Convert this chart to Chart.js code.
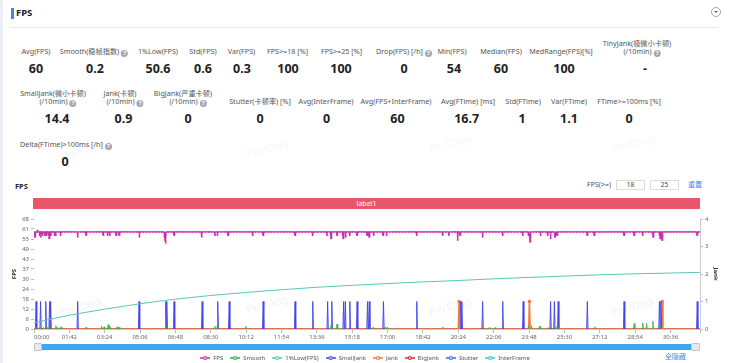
<!DOCTYPE html>
<html><head><meta charset="utf-8">
<script src="https://cdn.jsdelivr.net/npm/chart.js@4.4.1/dist/chart.umd.min.js"></script>
<style>
html,body{margin:0;padding:0;}
body{width:730px;height:363px;overflow:hidden;position:relative;background:#fff;font-family:"Noto Sans","Noto Sans CJK SC",sans-serif;color:#333;}
.abs{position:absolute;}
.lbl{position:absolute;font-size:7.2px;color:#555;text-align:center;white-space:nowrap;line-height:8.4px;transform:translateX(-50%);}
.lbl .l2{padding-left:10px;}
.val{position:absolute;font-size:12.5px;font-weight:bold;color:#222;white-space:nowrap;transform:translate(-50%,-50%);line-height:14px;}
.q{display:inline-block;width:7px;height:7px;border-radius:50%;background:#a3a9b3;color:#fff;font-size:6px;line-height:7px;text-align:center;font-weight:bold;margin-left:2px;vertical-align:-1px;}
.wm{position:absolute;font-size:11px;color:rgba(0,0,0,0.06);transform:translate(-50%,-50%) rotate(-15deg);white-space:nowrap;}
#chartWrap{position:absolute;left:0;top:212px;width:730px;height:159px;}
</style></head>
<body>
<div class="abs" style="left:0;top:0;width:3px;height:363px;background:#eef0f7;"></div>
<div class="abs" style="left:11px;top:8px;width:2.5px;height:11px;background:#4e7cf2;"></div>
<div class="abs" style="left:16px;top:6px;font-size:9.5px;font-weight:bold;color:#222;line-height:14px;">FPS</div>
<div class="abs" style="left:10px;top:27px;width:708px;height:1px;background:#ededed;"></div>
<div class="abs" style="left:711px;top:7px;width:10px;height:10px;border:1px solid #a8a8a8;border-radius:50%;box-sizing:border-box;"></div>
<div class="abs" style="left:714px;top:11px;width:0;height:0;border-left:2px solid transparent;border-right:2px solid transparent;border-top:2.5px solid #666;"></div>

<div id="stats"></div>

<div class="abs" style="left:15px;top:180px;font-size:7.5px;font-weight:bold;color:#222;line-height:12px;">FPS</div>
<div class="abs" style="left:560px;width:51px;top:180px;font-size:7px;color:#555;text-align:right;line-height:10px;">FPS(&gt;=)</div>
<div class="abs" id="in1" style="left:616px;top:180px;width:29px;height:10px;border:1px solid #dcdcdc;box-sizing:border-box;font-size:6.5px;color:#444;text-align:center;line-height:8px;"></div>
<div class="abs" id="in2" style="left:650px;top:180px;width:29px;height:10px;border:1px solid #dcdcdc;box-sizing:border-box;font-size:6.5px;color:#444;text-align:center;line-height:8px;"></div>
<div class="abs" style="left:688px;top:180px;font-size:7px;color:#4a7ff0;line-height:10px;">重置</div>
<div class="abs" id="labelBar" style="left:33px;top:197.5px;width:667px;height:11.5px;background:#e9566a;color:#fff;font-size:7px;text-align:center;line-height:11.5px;"></div>

<div id="chartWrap"><canvas id="c" width="730" height="159"></canvas></div>

<div class="abs" style="left:42px;top:344px;width:650px;height:6px;background:#3aa7ee;"></div>
<div class="abs" style="left:34px;top:343px;width:8px;height:8px;background:#e9e9e9;border:1px solid #c4c4c4;box-sizing:border-box;border-radius:1px;"></div>
<div class="abs" style="left:691px;top:343px;width:9px;height:8px;background:#e9e9e9;border:1px solid #c4c4c4;box-sizing:border-box;border-radius:1px;"></div>
<div class="abs" style="left:665px;top:352px;font-size:7px;color:#4a7ff0;line-height:10px;">全隐藏</div>

<div id="wms"></div>

<script>
// ---------- stats data ----------
const statLabels = [
  ['Avg(FPS)'], ['Smooth(稳帧指数)?'], ['1%Low(FPS)'], ['Std(FPS)'], ['Var(FPS)'],
  ['FPS>=18 [%]'], ['FPS>=25 [%]'], ['Drop(FPS) [/h]?'], ['Min(FPS)'], ['Median(FPS)'],
  ['MedRange(FPS)[%]'], ['TinyJank(极微小卡顿)', '(/10min)?'],
  ['SmallJank(微小卡顿)', '(/10min)?'], ['Jank(卡顿)', '(/10min)?'], ['BigJank(严重卡顿)', '(/10min)?'],
  ['Stutter(卡顿率) [%]'], ['Avg(InterFrame)'], ['Avg(FPS+InterFrame)'], ['Avg(FTime) [ms]'],
  ['Std(FTime)'], ['Var(FTime)'], ['FTime>=100ms [%]'],
  ['Delta(FTime)>100ms [/h]?']
];
const statValues = ['60','0.2','50.6','0.6','0.3','100','100','0','54','60','100','-',
  '14.4','0.9','0','0','0','60','16.7','1','1.1','0',
  '0'];
const statRow = [0,0,0,0,0,0,0,0,0,0,0,0, 1,1,1,1,1,1,1,1,1,1, 2];
// layout (centres in px)
const statLabelX = [36,94,158,203,241.5,287.5,341.5,404,452,501,561,637, 53,120,183,260,326,396,468,523,569,629, 66];
const statValueX = [36,95,158,203,242,288,341,404,454,501,564,645, 57,123.5,188,260,326.5,397.5,466.7,522,569,629, 65];
const rowLabelBottom = [55.5, 105.5, 148.5];
const rowValueY = [68.5, 119, 162];

const fpsThresholds = ['18', '25'];
const markLabel = 'label1';
document.getElementById('in1').textContent = fpsThresholds[0];
document.getElementById('in2').textContent = fpsThresholds[1];
document.getElementById('labelBar').textContent = markLabel;

const statsEl = document.getElementById('stats');
function lineHTML(t) {
  const esc = s => s.replace(/&/g,'&amp;').replace(/</g,'&lt;').replace(/>/g,'&gt;');
  if (t.endsWith('?')) return esc(t.slice(0, -1)) + '<span class="q">?</span>';
  return esc(t);
}
statLabels.forEach((lines, i) => {
  const r = statRow[i];
  const d = document.createElement('div');
  d.className = 'lbl';
  d.style.left = statLabelX[i] + 'px';
  d.style.top = (rowLabelBottom[r] - lines.length * 8.4) + 'px';
  d.innerHTML = lines.map((t, k) => '<div' + (k > 0 ? ' class="l2"' : '') + '>' + lineHTML(t) + '</div>').join('');
  statsEl.appendChild(d);
  const v = document.createElement('div');
  v.className = 'val';
  v.style.left = statValueX[i] + 'px';
  v.style.top = rowValueY[r] + 'px';
  v.textContent = statValues[i];
  statsEl.appendChild(v);
});

// watermarks
const wmText = 'PerfDog';
const wmPos = [[85,150],[267,148],[450,143],[633,143],[80,306],[267,304],[450,306],[632,306]];
const wmsEl = document.getElementById('wms');
wmPos.forEach(p => {
  const w = document.createElement('div');
  w.className = 'wm'; w.style.left = p[0] + 'px'; w.style.top = p[1] + 'px'; w.textContent = wmText;
  wmsEl.appendChild(w);
});

// ---------- chart data ----------
const durationSec = 1921;
const xTickSeconds = [0,102,204,306,408,510,612,714,816,918,1020,1122,1224,1326,1428,1530,1632,1734,1836];
const xTickLabels = ['00:00','01:42','03:24','05:06','06:48','08:30','10:12','11:54','13:36','15:18','17:00','18:42','20:24','22:06','23:48','25:30','27:12','28:54','30:36'];
const yTickLabels = ['0','6','12','18','24','30','37','43','49','55','61','68'];
const fpsAxisMax = 68;
const jankAxisMax = 4;

// FPS per second: steady reading, plus the seconds that deviate from it
const fpsSteady = 60;
const fpsDipTimes  = [3,10,16,20,25,32,37,44,49,59,63,77,126,150,200,212,219,237,246,304,376,378,380,404,484,522,529,560,631,661,753,804,845,857,874,892,899,911,932,961,967,980,1007,1017,1104,1179,1197,1222,1229,1294,1352,1410,1426,1431,1461,1482,1490,1503,1509,1596,1616,1702,1731,1756,1786,1804,1806,1812,1913];
const fpsDipValues = [57,61,58,57,58,58,58,56,58,58,58,58,57,58,58,58,58,58,58,57,57,55,54,58,57,58,58,58,58,58,58,58,58,56,58,56,57,58,58,58,57,58,58,58,58,58,58,55,58,57,58,58,58,54,58,58,56,57,58,58,58,58,58,58,57,58,56,55,58];

const lowTimes  = [0,102,204,306,408,510,612,714,816,918,1020,1122,1224,1326,1428,1530,1632,1734,1836,1921];
const lowValues = [3.8,8.5,12.2,15.6,18.4,20.7,22.6,24.3,25.8,27.0,28.1,29.1,30.0,31.0,31.9,32.7,33.5,34.1,34.6,35.0];

const smallJankTimes = [6,19,34,45,48,126,303,380,383,404,485,530,563,661,753,804,847,859,893,898,911,932,962,967,1008,1104,1231,1234,1294,1352,1411,1490,1501,1512,1596,1702,1804,1808,1913];
const jankTimes = [1226,1429,1812];
const smoothTimes  = [8,17,27,37,44,63,69,78,150,195,202,214,219,240,246,381,522,529,611,857,874,979,1014,1020,1179,1313,1330,1426,1435,1458,1461,1482,1508,1514,1618,1731,1756,1767,1785,1806];
const smoothValues = [0.06,0.05,0.06,0.08,0.05,0.12,0.06,0.08,0.06,0.1,0.08,0.16,0.1,0.08,0.06,0.08,0.1,0.15,0.1,0.15,0.18,0.07,0.07,0.07,0.07,0.05,0.05,0.08,0.12,0.1,0.1,0.05,0.08,0.1,0.08,0.2,0.22,0.2,0.28,0.12];

// ---------- build series ----------
const half = 2; // half-width of a spike in seconds
function spikeSeries(times, values) {
  const out = [];
  times.forEach((t, i) => {
    const v = Array.isArray(values) ? values[i] : values;
    out.push({x: t - half, y: 0}, {x: t, y: v}, {x: t + half, y: 0}, {x: t + half + 0.01, y: null});
  });
  return out;
}
const dipMap = new Map(fpsDipTimes.map((t, i) => [t, fpsDipValues[i]]));
const fpsData = [];
for (let t = 0; t <= durationSec; t++) fpsData.push({x: t, y: dipMap.has(t) ? dipMap.get(t) : fpsSteady});
const lowData = lowTimes.map((t, i) => ({x: t, y: lowValues[i]}));
const jankData = [{x: 0, y: 0}];
jankTimes.forEach(t => jankData.push({x: t - half, y: 0}, {x: t, y: 1}, {x: t + half, y: 0}));
jankData.push({x: durationSec, y: 0});
const flatData = [{x: 0, y: 0}, {x: durationSec, y: 0}];

function legendIcon(color) {
  const c = document.createElement('canvas');
  c.width = 10; c.height = 6;
  const g = c.getContext('2d');
  g.strokeStyle = color; g.lineWidth = 1.5;
  g.beginPath(); g.moveTo(0, 3); g.lineTo(10, 3); g.stroke();
  g.fillStyle = color; g.beginPath(); g.arc(5, 3, 2.1, 0, Math.PI * 2); g.fill();
  g.fillStyle = '#fff'; g.beginPath(); g.arc(5, 3, 0.9, 0, Math.PI * 2); g.fill();
  return c;
}

const C = {
  fps: '#c630b0', smooth: '#2fb04a', low: '#58c6b9', small: '#4242ea',
  jank: '#f07a3a', big: '#e8242c', stutter: '#3a6fe0', inter: '#35c6e6'
};

Chart.defaults.font.family = '"Noto Sans","Noto Sans CJK SC",sans-serif';

const datasets = [
  {label: 'FPS', data: fpsData, yAxisID: 'y', borderColor: C.fps, backgroundColor: C.fps, borderWidth: 1.3,
   pointRadius: ctx => (ctx.raw && (ctx.raw.y !== fpsSteady || ctx.dataIndex % 9 === 0) ? 1.1 : 0),
   pointStyle: 'rect', pointBorderWidth: 0, pointBackgroundColor: C.fps, tension: 0},
  {label: 'Smooth', data: spikeSeries(smoothTimes, smoothValues), yAxisID: 'y1', borderColor: C.smooth,
   backgroundColor: 'rgba(60,185,90,0.45)', fill: 'origin', borderWidth: 0.8, pointRadius: 0, spanGaps: false, tension: 0},
  {label: '1%Low(FPS)', data: lowData, yAxisID: 'y', borderColor: C.low, backgroundColor: C.low, borderWidth: 1,
   pointRadius: 0, cubicInterpolationMode: 'monotone'},
  {label: 'SmallJank', data: spikeSeries(smallJankTimes, 1), yAxisID: 'y1', borderColor: C.small,
   backgroundColor: 'rgba(110,110,240,0.35)', fill: 'origin', borderWidth: 0.9, pointRadius: 0, spanGaps: false, tension: 0},
  {label: 'Jank', data: jankData, yAxisID: 'y1', borderColor: C.jank, backgroundColor: 'rgba(240,122,58,0.35)',
   fill: 'origin', borderWidth: 1.6, tension: 0,
   pointRadius: ctx => (ctx.raw && ctx.raw.y > 0 ? 1.8 : 0), pointBackgroundColor: C.jank, pointBorderWidth: 0},
  {label: 'BigJank', data: flatData, yAxisID: 'y1', borderColor: C.big, backgroundColor: C.big, borderWidth: 1.2, pointRadius: 0},
  {label: 'Stutter', data: flatData, yAxisID: 'y1', borderColor: C.stutter, backgroundColor: C.stutter, borderWidth: 1.2, pointRadius: 0},
  {label: 'InterFrame', data: flatData, yAxisID: 'y1', borderColor: C.inter, backgroundColor: C.inter, borderWidth: 1.2, pointRadius: 0}
];
const icons = datasets.map(d => legendIcon(d.borderColor));

new Chart(document.getElementById('c'), {
  type: 'line',
  data: {datasets},
  options: {
    responsive: false, animation: false, events: [], devicePixelRatio: 1,
    layout: {padding: {top: 7, left: 0, right: 0, bottom: 0}},
    plugins: {
      tooltip: {enabled: false},
      legend: {
        position: 'bottom',
        labels: {
          usePointStyle: true, pointStyleWidth: 10, padding: 7, color: '#555', font: {size: 6},
          generateLabels(chart) {
            const items = Chart.defaults.plugins.legend.labels.generateLabels(chart);
            items.forEach(it => { it.pointStyle = icons[it.datasetIndex]; });
            return items;
          }
        }
      }
    },
    scales: {
      x: {
        type: 'linear', min: 0, max: durationSec,
        afterBuildTicks(scale) {
          scale.ticks = xTickSeconds.concat([durationSec]).map(v => ({value: v}));
        },
        afterFit(scale) { scale.height = 19; },
        ticks: {
          autoSkip: false, maxRotation: 0, minRotation: 0, align: 'inner', padding: 1,
          color: '#666', font: {size: 6},
          callback: (v, i) => (i < xTickLabels.length ? xTickLabels[i] : '')
        },
        grid: {drawOnChartArea: false, tickLength: 4, color: '#bbb'},
        border: {display: true, color: '#ccc'}
      },
      y: {
        position: 'left', min: 0, max: fpsAxisMax,
        afterBuildTicks(scale) {
          scale.ticks = yTickLabels.map((l, i) => ({value: i * fpsAxisMax / (yTickLabels.length - 1)}));
        },
        afterFit(scale) { scale.width = 34; },
        ticks: {autoSkip: false, color: '#666', font: {size: 6}, padding: 2, callback: (v, i) => yTickLabels[i]},
        grid: {drawOnChartArea: false, tickLength: 3, color: '#bbb'},
        border: {display: false},
        title: {display: true, text: 'FPS', color: '#333', font: {size: 6, weight: 'bold'}, padding: {top: 11, bottom: 0}}
      },
      y1: {
        position: 'right', min: 0, max: jankAxisMax,
        afterFit(scale) { scale.width = 30; },
        ticks: {stepSize: 1, autoSkip: false, color: '#666', font: {size: 6}, padding: 2},
        grid: {drawOnChartArea: false, tickLength: 3, color: '#bbb'},
        border: {display: true, color: '#ccc'},
        title: {display: true, text: 'Jank', color: '#333', font: {size: 6, weight: 'bold'}, padding: {top: 11, bottom: 0}}
      }
    }
  }
});
</script>
</body></html>
